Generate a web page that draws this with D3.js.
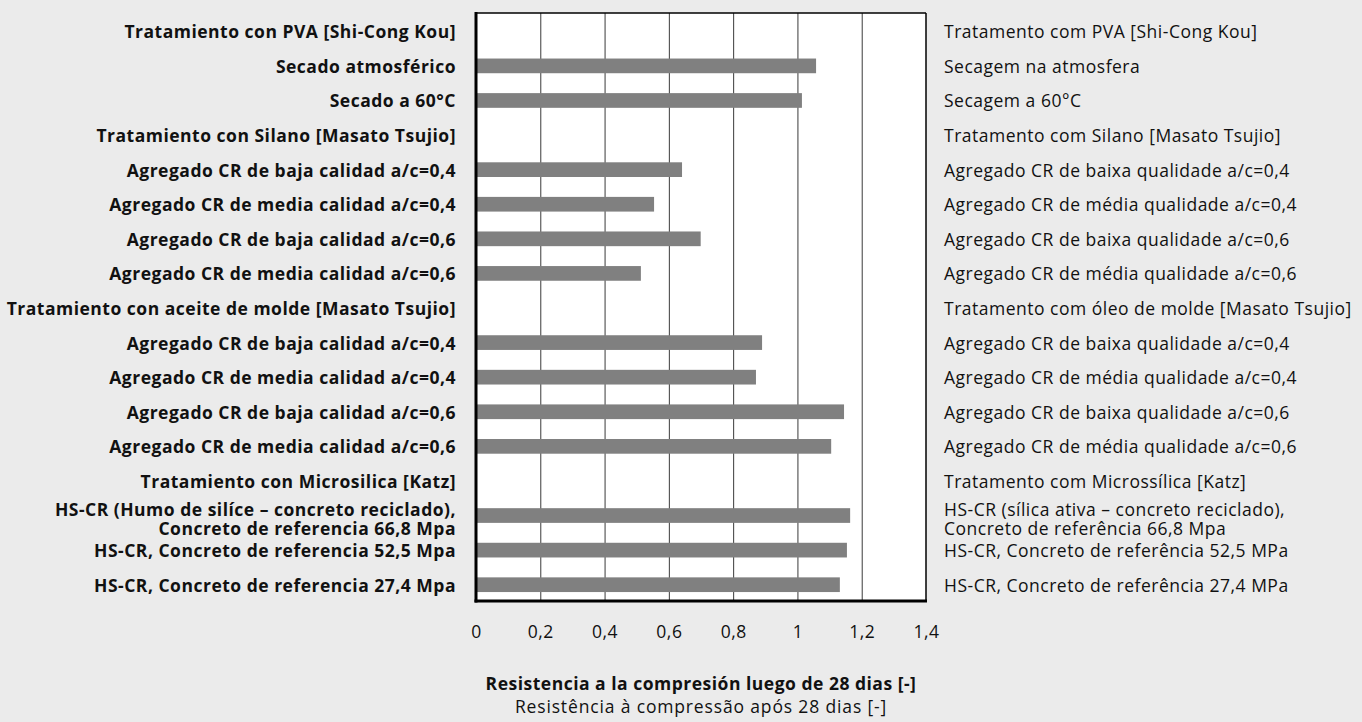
<!DOCTYPE html>
<html>
<head>
<meta charset="utf-8">
<script src="https://cdn.jsdelivr.net/npm/d3@7"></script>
<style>
  html, body { margin: 0; padding: 0; background: #ebebeb; }
  svg { display: block; }
  text { font-family: "Open Sans", "Noto Sans", sans-serif; fill: #111; }
</style>
</head>
<body>
<svg id="chart" width="1362" height="722"></svg>
<script>
const labelsEs = [
  "Tratamiento con PVA [Shi-Cong Kou]",
  "Secado atmosférico",
  "Secado a 60°C",
  "Tratamiento con Silano [Masato Tsujio]",
  "Agregado CR de baja calidad a/c=0,4",
  "Agregado CR de media calidad a/c=0,4",
  "Agregado CR de baja calidad a/c=0,6",
  "Agregado CR de media calidad a/c=0,6",
  "Tratamiento con aceite de molde [Masato Tsujio]",
  "Agregado CR de baja calidad a/c=0,4",
  "Agregado CR de media calidad a/c=0,4",
  "Agregado CR de baja calidad a/c=0,6",
  "Agregado CR de media calidad a/c=0,6",
  "Tratamiento con Microsilica [Katz]",
  "HS-CR (Humo de silíce – concreto reciclado),|Concreto de referencia 66,8 Mpa",
  "HS-CR, Concreto de referencia 52,5 Mpa",
  "HS-CR, Concreto de referencia 27,4 Mpa"
];
const labelsPt = [
  "Tratamento com PVA [Shi-Cong Kou]",
  "Secagem na atmosfera",
  "Secagem a 60°C",
  "Tratamento com Silano [Masato Tsujio]",
  "Agregado CR de baixa qualidade a/c=0,4",
  "Agregado CR de média qualidade a/c=0,4",
  "Agregado CR de baixa qualidade a/c=0,6",
  "Agregado CR de média qualidade a/c=0,6",
  "Tratamento com óleo de molde [Masato Tsujio]",
  "Agregado CR de baixa qualidade a/c=0,4",
  "Agregado CR de média qualidade a/c=0,4",
  "Agregado CR de baixa qualidade a/c=0,6",
  "Agregado CR de média qualidade a/c=0,6",
  "Tratamento com Microssílica [Katz]",
  "HS-CR (sílica ativa – concreto reciclado),|Concreto de referência 66,8 Mpa",
  "HS-CR, Concreto de referência 52,5 MPa",
  "HS-CR, Concreto de referência 27,4 MPa"
];
const values = [null, 1.058, 1.014, null, 0.641, 0.554, 0.699, 0.513, null, 0.890, 0.871, 1.145, 1.105, null, 1.164, 1.154, 1.132];
const tickValues = [0, 0.2, 0.4, 0.6, 0.8, 1.0, 1.2, 1.4];
const titleEs = "Resistencia a la compresión luego de 28 dias [-]";
const titlePt = "Resistência à compressão após 28 dias [-]";

const svg = d3.select("#chart");
const pL = 476, pR = 926, pT = 13, pB = 601;
const idx = d3.range(labelsEs.length);

const x = d3.scaleLinear().domain([0, 1.4]).range([pL, pR]);
const y = d3.scaleBand().domain(idx).range([pT + 1, pB + 1]).paddingInner(0.575).paddingOuter(0.2875);

const loc = d3.formatLocale({decimal: ",", thousands: ".", grouping: [3], currency: ["", ""]});
const fmt = loc.format("~g");

// plot background
svg.append("rect").attr("x", pL).attr("y", pT).attr("width", pR - pL).attr("height", pB - pT).attr("fill", "#fff");

// gridlines
svg.append("g").attr("transform", `translate(0,${pB})`)
  .call(d3.axisBottom(x).tickValues(tickValues.slice(1, -1)).tickSize(-(pB - pT)).tickFormat(""))
  .call(g => g.select(".domain").remove())
  .call(g => g.selectAll("line").attr("stroke", "#3a3a3a").attr("stroke-width", 1));

// bars
svg.append("g").selectAll("rect").data(idx.filter(i => values[i] != null)).join("rect")
  .attr("x", x(0))
  .attr("y", i => y(i))
  .attr("width", i => x(values[i]) - x(0))
  .attr("height", y.bandwidth())
  .attr("fill", "#808080");

// frame
svg.append("line").attr("x1", pL).attr("x2", pR).attr("y1", pT).attr("y2", pT).attr("stroke", "#000").attr("stroke-width", 1.5);
svg.append("line").attr("x1", pR).attr("x2", pR).attr("y1", pT).attr("y2", pB).attr("stroke", "#000").attr("stroke-width", 1.5);
svg.append("line").attr("x1", pL).attr("x2", pL).attr("y1", pT - 1).attr("y2", pB + 1.5).attr("stroke", "#000").attr("stroke-width", 3);
svg.append("line").attr("x1", pL - 1.5).attr("x2", pR + 1).attr("y1", pB).attr("y2", pB).attr("stroke", "#000").attr("stroke-width", 3);

// x tick labels
svg.append("g").attr("transform", `translate(0,${pB + 22})`)
  .call(d3.axisBottom(x).tickValues(tickValues).tickSize(0).tickFormat(fmt))
  .call(g => g.select(".domain").remove())
  .call(g => g.selectAll("text").attr("font-size", 17.5).attr("fill", "#111").attr("font-family", "'Open Sans', sans-serif").attr("letter-spacing", 0.5));

// category labels
function drawLabels(labels, xPos, anchor, weight, ls) {
  const g = svg.append("g");
  idx.forEach(i => {
    const lines = labels[i].split("|");
    const cy = y(i) + y.bandwidth() / 2 + (lines.length > 1 ? 3 : 0);
    lines.forEach((ln, k) => {
      g.append("text")
        .attr("x", xPos)
        .attr("y", cy + (k - (lines.length - 1) / 2) * 19)
        .attr("text-anchor", anchor)
        .attr("font-size", 17.5)
        .attr("font-weight", weight)
        .attr("letter-spacing", ls)
        .attr("dominant-baseline", "central")
        .text(ln);
    });
  });
}
drawLabels(labelsEs, 456, "end", 700, 0.5);
drawLabels(labelsPt, 944, "start", 400, 0.5);

// axis titles
svg.append("text").attr("x", (pL + pR) / 2).attr("y", 690).attr("text-anchor", "middle")
  .attr("font-size", 17.5).attr("font-weight", 700).attr("letter-spacing", 0.5).text(titleEs);
svg.append("text").attr("x", (pL + pR) / 2).attr("y", 713).attr("text-anchor", "middle")
  .attr("font-size", 17.5).attr("font-weight", 400).attr("letter-spacing", 0.85).text(titlePt);
</script>
</body>
</html>
